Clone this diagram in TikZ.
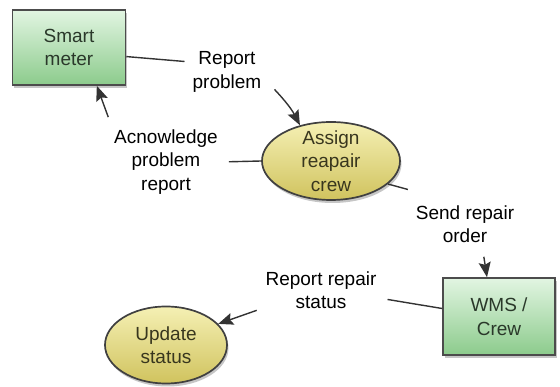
\documentclass[tikz,border=0pt]{standalone}
\usepackage{fontspec}
\setmainfont{Liberation Sans}
\usetikzlibrary{arrows.meta,shapes.geometric,shadows}
\definecolor{unittop}{HTML}{E2F5E2}
\definecolor{unitbot}{HTML}{8CCB8C}
\definecolor{unittext}{HTML}{2A382A}
\definecolor{proctop}{HTML}{F5F0B4}
\definecolor{procbot}{HTML}{D0C35E}
\definecolor{proctext}{HTML}{38361E}
\begin{document}
\begin{tikzpicture}[x=1pt,y=1pt,font=\fontsize{19}{23.5}\selectfont,
		unit/.style={rectangle,draw=black!70,line width=1.6pt,top color=unittop,bottom color=unitbot,
			minimum width=113pt,minimum height=75pt,align=center,text=unittext,
			drop shadow={shadow xshift=1.5pt,shadow yshift=-3pt,opacity=.45}},
		proc/.style={ellipse,draw=black!75,line width=1.7pt,top color=proctop,bottom color=procbot,
			inner sep=0pt,align=center,text=proctext,
			drop shadow={shadow xshift=1.5pt,shadow yshift=-3pt,opacity=.45}},
		lbl/.style={align=center,inner sep=2pt},
		flow/.style={line width=1.4pt,black!80},
		flowarr/.style={flow,-{Stealth[length=15pt,width=12pt,inset=2.5pt]}}]
	\useasboundingbox (0,0) rectangle (560,387);
	\node[unit] (meter) at (69,339.5) {Smart\\meter};
	\node[unit,minimum width=112pt,minimum height=77pt] (wms) at (499,70.5) {WMS /\\Crew};
	\node[proc,minimum width=138pt,minimum height=78pt,inner ysep=-3pt] (assign) at (331,226) {Assign\\reapair\\crew};
	\node[proc,minimum width=122pt,minimum height=77pt] (update) at (166,42) {Update\\status};
	\node[lbl] (report) at (227,315) {Report\\problem};
	\node[lbl] (ack) at (166,225) {Acnowledge\\problem\\report};
	\node[lbl] (order) at (465,163) {Send repair\\order};
	\node[lbl] (status) at (321,97) {Report repair\\status};
	% flows
	\draw[flow,shorten >=6pt] (meter.-9.5) -- ([yshift=10pt]report.west);
	\draw[flowarr] ([xshift=11pt,yshift=5pt]report.south east) to[bend left=8] (assign.131);
	\draw[flowarr,shorten <=11pt] (ack.north west) -- (meter.-54);
	\draw[flow,shorten <=9pt] (ack.east) -- (assign.west);
	\draw[flow,shorten >=6pt] (assign.-22) -- ([yshift=12pt]order.north west);
	\draw[flowarr,shorten <=12pt] ([xshift=17pt]order.south) -- ([xshift=-12pt]wms.north);
	\draw[flow,shorten >=9pt] (wms.172) -- ([yshift=-8pt]status.east);
	\draw[flowarr,shorten <=7pt] ([yshift=-18pt]status.west) -- (update.22);
\end{tikzpicture}
\end{document}
